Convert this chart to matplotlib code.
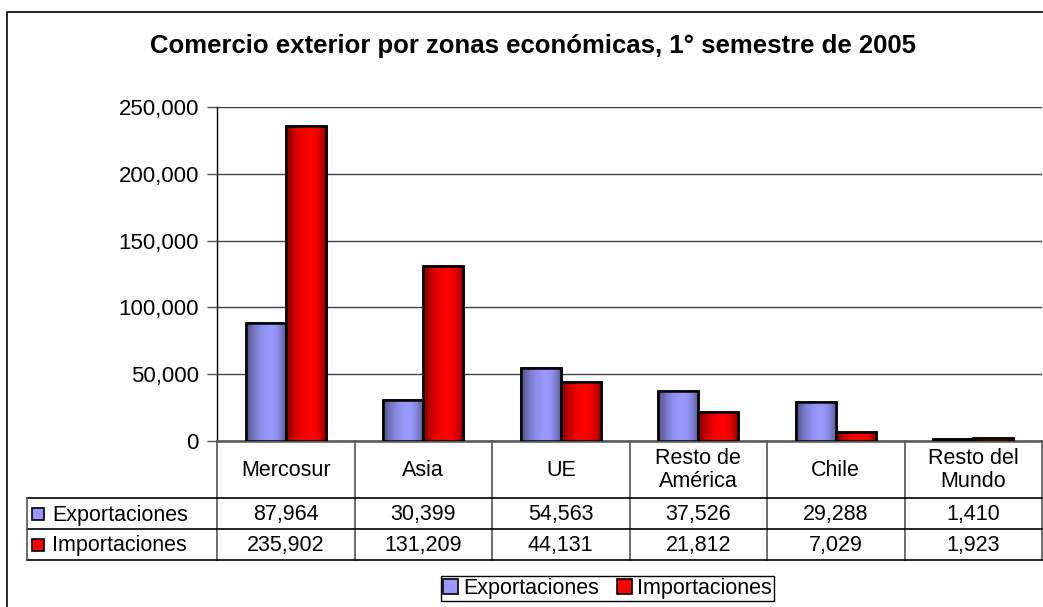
import numpy as np
import matplotlib
matplotlib.use("Agg")
import matplotlib.pyplot as plt
import matplotlib.transforms as mtransforms
from matplotlib.patches import Patch, Rectangle
from matplotlib.ticker import FuncFormatter

plt.rcParams['font.family'] = ['Liberation Sans', 'DejaVu Sans']

zonas = ["Mercosur", "Asia", "UE", "Resto de\nAmérica", "Chile", "Resto del\nMundo"]
exportaciones = [87964, 30399, 54563, 37526, 29288, 1410]
importaciones = [235902, 131209, 44131, 21812, 7029, 1923]
series_names = ["Exportaciones", "Importaciones"]
series_colors = ["#9999FF", "#FF0000"]

W, H = 1043, 607
fig = plt.figure(figsize=(W / 100, H / 100), dpi=100)
fig.patch.set_facecolor("white")

FS = 15.5


def fx(px):
    return px / W


def fy(py):
    return 1 - py / H


# plot area: x 217..1042, y 107..441 (pixels)
ax = fig.add_axes([fx(217), fy(441), fx(1042) - fx(217), fy(107) - fy(441)])

# overlay in pixel coordinates for the table, frame and lines
ov = fig.add_axes([0, 0, 1, 1], zorder=5)
ov.set_xlim(0, W)
ov.set_ylim(H, 0)
ov.axis("off")
ov.patch.set_visible(False)

# outer chart border
ov.plot([7, 7, 1042], [610, 12, 12], color="black", lw=1.2, solid_joinstyle="miter")

ax.set_yticks(np.arange(0, 250001, 50000))
ax.yaxis.set_major_formatter(FuncFormatter(lambda v, p: f"{int(v):,}"))
ax.tick_params(axis="y", length=7, width=1, color="#555555", labelsize=16, pad=6)
ax.set_xticks([])
ax.grid(axis="y", color="#404040", lw=1)
ax.set_axisbelow(True)
for s in ["top", "right"]:
    ax.spines[s].set_visible(False)
ax.spines["left"].set_color("black")
ax.spines["left"].set_linewidth(1)
ax.spines["bottom"].set_color("#555555")
ax.spines["bottom"].set_linewidth(1.8)


def gradient_row(color, n=64):
    rgb = np.array(matplotlib.colors.to_rgb(color))
    t = np.linspace(0, 1, n)
    peak = 0.62
    f = np.where(t < peak,
                 1 - 0.5 * ((peak - t) / peak) ** 2,
                 1 - 0.4 * ((t - peak) / (1 - peak)) ** 2)
    return (rgb[None, :] * f[:, None])[None, :, :]


w = 0.29
x = np.arange(len(zonas))
for k, (vals, col) in enumerate(zip([exportaciones, importaciones], series_colors)):
    offs = -w / 2 if k == 0 else w / 2
    bars = ax.bar(x + offs, vals, width=w, color=col, edgecolor="black", lw=1.8, zorder=3)
    img = gradient_row(col)
    for b in bars:
        bx, by = b.get_x(), b.get_y()
        im = ax.imshow(img, extent=[bx, bx + b.get_width(), by, by + b.get_height()],
                       aspect="auto", zorder=3.5, interpolation="bilinear")
        im.set_clip_path(b)
        ax.add_patch(Rectangle((bx, by), b.get_width(), b.get_height(), fill=False,
                               edgecolor="black", lw=1.8, zorder=4))
ax.set_xlim(-0.5, len(zonas) - 0.5)
ax.set_ylim(0, 250000)

# data table: x follows the category axis, y in pixels
tr = mtransforms.blended_transform_factory(ax.transData, ov.transData)
row_y = [441, 498, 529, 560]
for b in np.arange(-0.5, len(zonas)):
    ov.plot([b, b], [441, 560], color="#555555", lw=1.2, transform=tr)
x_right = ov.transData.inverted().transform(ax.transData.transform((len(zonas) - 0.5, 0)))[0]
for yy in row_y[1:]:
    ov.plot([27, x_right], [yy, yy], color="black", lw=1.2)
ov.plot([27, 27], [498, 560], color="#555555", lw=1.2)

for i, z in enumerate(zonas):
    ov.text(i, 470, z, transform=tr, ha="center", va="center", fontsize=FS,
            linespacing=1.15)
    ov.text(i, 514.5, f"{exportaciones[i]:,}", transform=tr, ha="center", va="center",
            fontsize=FS)
    ov.text(i, 545.5, f"{importaciones[i]:,}", transform=tr, ha="center", va="center",
            fontsize=FS)

for k, (name, col) in enumerate(zip(series_names, series_colors)):
    yc = 514 + 31 * k
    ov.add_patch(Rectangle((32, yc - 6.5), 12, 12, facecolor=col, edgecolor="black", lw=1.2))
    ov.text(52, yc + 1, name, ha="left", va="center", fontsize=FS)

fig.text(fx(533), fy(46), "Comercio exterior por zonas económicas, 1° semestre de 2005",
         ha="center", va="center", fontsize=18.5, fontweight="bold")

handles = [Patch(facecolor=c, edgecolor="black", lw=1.2) for c in series_colors]
leg = fig.legend(handles, series_names, loc="center", bbox_to_anchor=(fx(607.5), fy(588.5)),
                 ncol=2, fontsize=FS, frameon=True, fancybox=False, framealpha=1,
                 edgecolor="black", handlelength=0.7, handleheight=0.7,
                 handletextpad=0.25, columnspacing=0.8, borderpad=0.1, borderaxespad=0)
leg.get_frame().set_linewidth(1)

fig.savefig("out.png", dpi=100)
